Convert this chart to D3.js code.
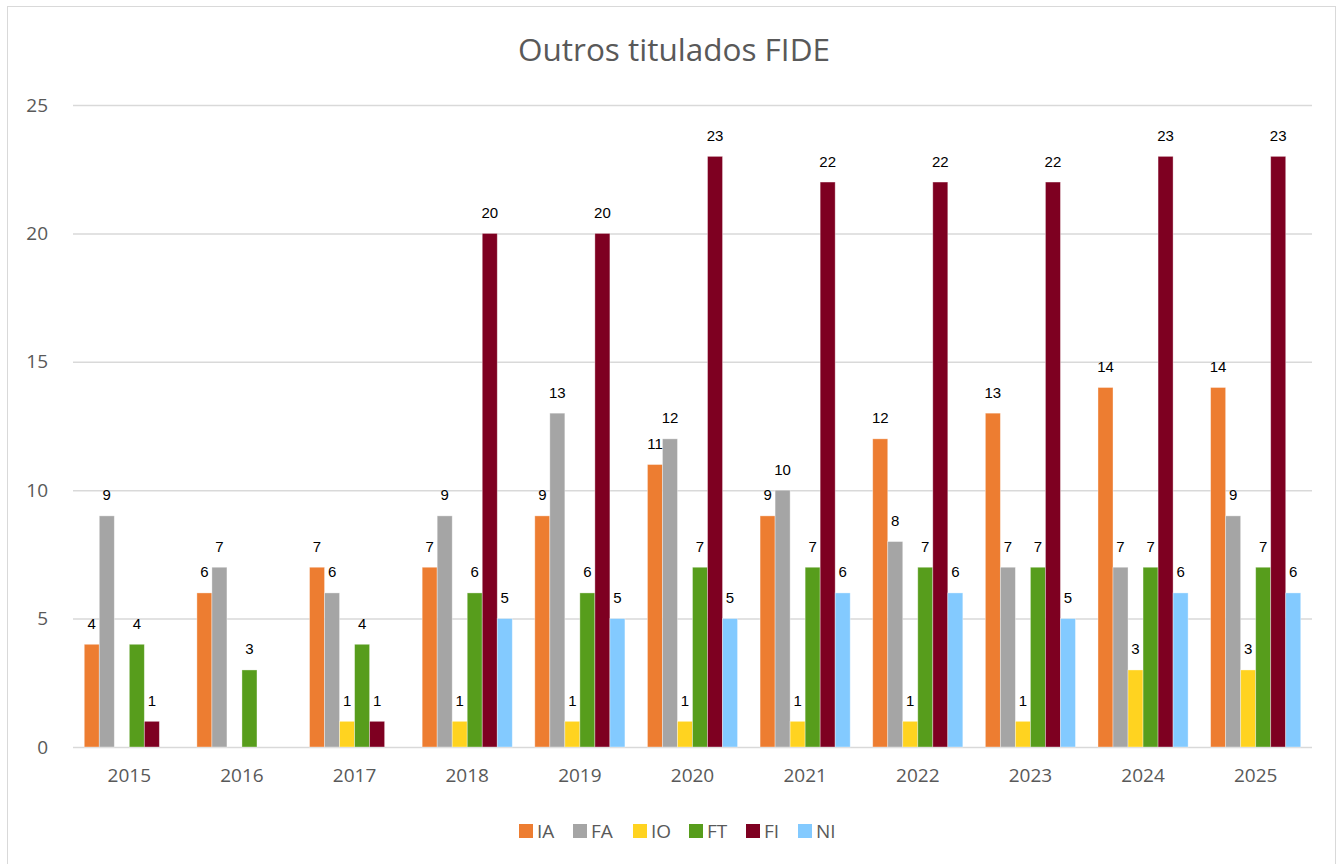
<!DOCTYPE html>
<html><head><meta charset="utf-8">
<script src="https://cdn.jsdelivr.net/npm/d3@7"></script>
<style>
html,body{margin:0;padding:0;background:#fff;}
svg{display:block;}
</style></head>
<body>
<svg id="chart" width="1340" height="864"></svg>
<script>
const years = ["2015","2016","2017","2018","2019","2020","2021","2022","2023","2024","2025"];
const seriesNames = ["IA","FA","IO","FT","FI","NI"];
const IA = [4,6,7,7,9,11,9,12,13,14,14];
const FA = [9,7,6,9,13,12,10,8,7,7,9];
const IO = [null,null,1,1,1,1,1,1,1,3,3];
const FT = [4,3,4,6,6,7,7,7,7,7,7];
const FI = [1,null,1,20,20,23,22,22,22,23,23];
const NI = [null,null,null,5,5,5,6,6,5,6,6];
const yTicks = [0,5,10,15,20,25];
const colors = ["#ED7D31","#A5A5A5","#FFD320","#579D1C","#7E0021","#83CAFF"];
const title = "Outros titulados FIDE";

const seriesValues = [IA,FA,IO,FT,FI,NI];
const svg = d3.select("#chart");
const plot = {left:73, right:1312, top:105, bottom:747};

svg.append("rect").attr("x",7.5).attr("y",6.5).attr("width",1328).attr("height",870)
  .attr("fill","#fff").attr("stroke","#d9d9d9").attr("stroke-width",1);

const x0 = d3.scaleBand().domain(years).range([plot.left, plot.right]).paddingInner(0.2).paddingOuter(0.1);
const x1 = d3.scaleBand().domain(seriesNames).range([0, x0.bandwidth()]);
const y = d3.scaleLinear().domain([0,25]).range([plot.bottom, plot.top]);

// gridlines
const yAxis = d3.axisLeft(y).tickValues(yTicks).tickSize(-(plot.right-plot.left)).tickPadding(25).tickFormat(d3.format("d"));
const gy = svg.append("g").attr("transform",`translate(${plot.left},0)`).call(yAxis);
gy.select(".domain").remove();
gy.selectAll(".tick line").attr("stroke","#d9d9d9").attr("stroke-width",1.5);
gy.selectAll(".tick text").attr("fill","#595959").style("font-family","'Open Sans', sans-serif").style("font-size","19px");

// bars
const data = [];
years.forEach((yr,i)=>{
  seriesNames.forEach((s,j)=>{
    const v = seriesValues[j][i];
    if (v !== null && v !== undefined) data.push({year:yr, series:s, value:v, color:colors[j]});
  });
});

svg.append("g").selectAll("rect").data(data).join("rect")
  .attr("x", d=>x0(d.year)+x1(d.series))
  .attr("y", d=>y(d.value))
  .attr("width", x1.bandwidth())
  .attr("height", d=>y(0)-y(d.value))
  .attr("fill", d=>d.color)
  .attr("stroke","rgba(255,255,255,0.45)").attr("stroke-width",0.8);

// labels
svg.append("g").selectAll("text").data(data).join("text")
  .attr("x", d=>x0(d.year)+x1(d.series)+x1.bandwidth()/2)
  .attr("y", d=>y(d.value)-15.5)
  .attr("text-anchor","middle")
  .attr("fill","#000")
  .style("font-family","'Liberation Sans', Arial, sans-serif")
  .style("font-size","15px")
  .text(d=>d.value);

// x axis
const xAxis = d3.axisBottom(x0).tickSize(0).tickPadding(22);
const gx = svg.append("g").attr("transform",`translate(0,${plot.bottom})`).call(xAxis);
gx.select(".domain").remove();
gx.selectAll(".tick text").attr("fill","#595959").style("font-family","'Open Sans', sans-serif").style("font-size","19px");

// title
svg.append("text").attr("x",674).attr("y",61).attr("text-anchor","middle")
  .attr("fill","#595959").style("font-family","'Open Sans', sans-serif").style("font-size","31.5px")
  .text(title);

// legend
const legendX = [519,573,633,689,746,798];
const lg = svg.append("g").selectAll("g").data(seriesNames).join("g")
  .attr("transform",(d,i)=>`translate(${legendX[i]},824)`);
lg.append("rect").attr("width",14).attr("height",14).attr("fill",(d,i)=>colors[i]);
lg.append("text").attr("x",18).attr("y",14).attr("fill","#595959")
  .style("font-family","'Open Sans', sans-serif").style("font-size","19px").text(d=>d);
</script>
</body></html>
